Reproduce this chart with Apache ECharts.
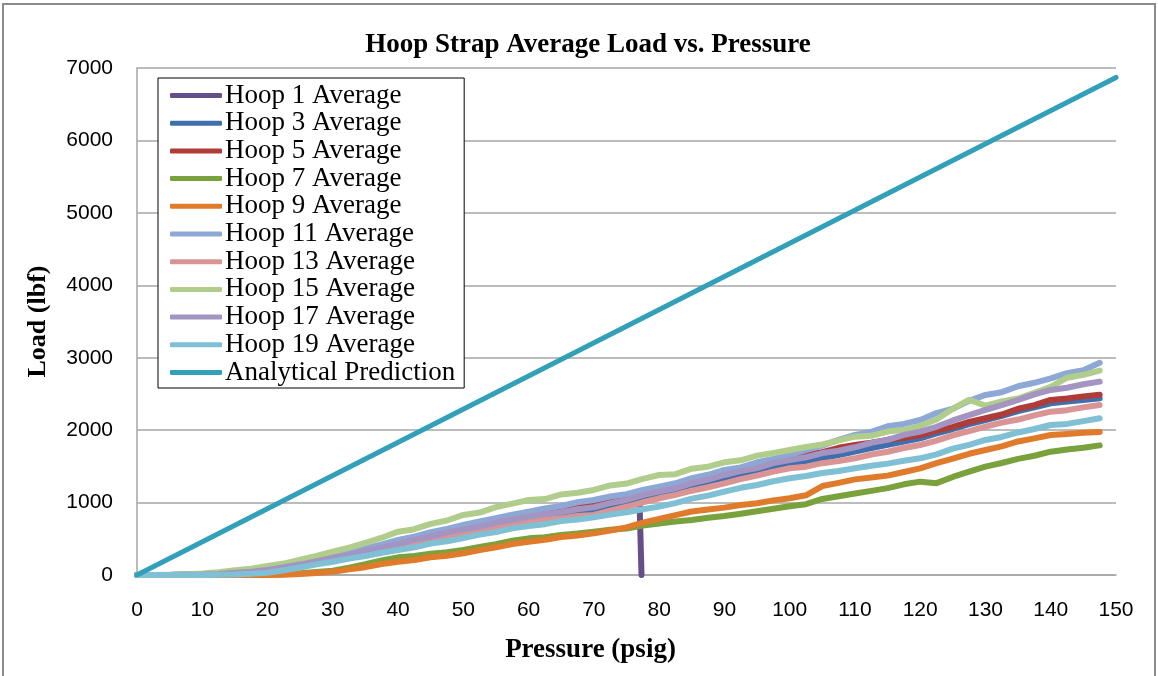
<!DOCTYPE html>
<html>
<head>
<meta charset="utf-8">
<script src="https://cdn.jsdelivr.net/npm/echarts@6/dist/echarts.min.js"></script>
<style>
html,body{margin:0;padding:0;background:#fff;}
#chart{width:1158px;height:676px;}
</style>
</head>
<body>
<div id="chart"></div>
<script>
const pressure = [0,2.5,5,7.5,10,12.5,15,17.5,20,22.5,25,27.5,30,32.5,35,37.5,40,42.5,45,47.5,50,52.5,55,57.5,60,62.5,65,67.5,70,72.5,75,77.5,80,82.5,85,87.5,90,92.5,95,97.5,100,102.5,105,107.5,110,112.5,115,117.5,120,122.5,125,127.5,130,132.5,135,137.5,140,142.5,145,147.5];
const pressureHoop1 = [0,2.5,5,7.5,10,12.5,15,17.5,20,22.5,25,27.5,30,32.5,35,37.5,40,42.5,45,47.5,50,52.5,55,57.5,60,62.5,65,67.5,70,72.5,75,77,77.3];
const pressureAnalytical = [0,150];

const hoop1 = [0,0,0,2,5,12,25,42,62,98,138,178,220,265,315,362,410,462,512,560,605,648,695,740,780,810,840,870,905,940,980,1000,0];
const hoop3 = [0,0,0,2,5,13,26,44,65,102,138,182,225,268,322,364,414,468,512,568,610,648,704,742,783,814,832,858,875,934,986,1054,1105,1156,1224,1276,1335,1384,1426,1478,1519,1556,1614,1656,1703,1754,1796,1844,1887,1954,2016,2084,2140,2196,2264,2316,2371,2394,2416,2440];
const hoop5 = [0,0,0,2,6,16,28,52,75,108,152,192,240,288,336,394,440,498,546,604,650,686,744,786,829,864,892,934,960,1014,1066,1134,1190,1236,1306,1364,1427,1456,1516,1564,1611,1654,1696,1756,1795,1826,1866,1896,1933,1994,2046,2114,2164,2216,2296,2344,2417,2436,2466,2490];
const hoop7 = [0,0,0,0,0,0,0,2,5,12,25,40,60,102,148,202,244,262,294,316,345,388,426,474,506,522,554,572,598,624,642,684,710,738,760,790,815,846,880,914,950,978,1050,1088,1125,1162,1200,1252,1289,1268,1354,1426,1496,1546,1604,1646,1703,1734,1756,1790];
const hoop9 = [0,0,0,0,0,0,0,0,0,5,15,28,46,78,108,152,184,206,244,266,300,344,382,428,460,486,524,546,575,614,656,724,775,826,876,904,930,966,990,1030,1060,1100,1228,1272,1320,1346,1372,1422,1473,1544,1606,1674,1726,1776,1844,1886,1933,1948,1964,1975];
const hoop11 = [0,0,0,3,8,22,36,60,80,118,158,208,253,302,368,422,483,528,590,636,690,738,786,834,875,918,952,1004,1036,1084,1116,1174,1220,1266,1336,1384,1450,1486,1556,1604,1657,1724,1786,1866,1933,1976,2054,2086,2140,2236,2296,2404,2486,2524,2606,2654,2716,2786,2826,2930];
const hoop13 = [0,0,0,0,3,10,20,36,55,90,122,168,205,248,298,342,390,444,486,538,580,616,664,696,737,764,782,814,829,888,942,1004,1059,1106,1164,1212,1266,1324,1372,1428,1473,1496,1544,1572,1611,1664,1702,1754,1795,1856,1928,1986,2048,2104,2146,2204,2255,2276,2314,2348];
const hoop15 = [0,0,4,12,20,38,65,88,124,158,210,262,322,378,445,515,598,632,705,752,829,862,938,985,1036,1048,1112,1135,1174,1236,1262,1328,1381,1392,1468,1495,1556,1583,1648,1684,1726,1768,1802,1858,1910,1922,1980,2004,2060,2148,2294,2420,2338,2396,2436,2516,2598,2724,2764,2822];
const hoop17 = [0,0,0,2,5,14,30,46,70,106,144,192,235,278,332,378,430,488,532,588,630,668,724,762,806,838,866,908,935,992,1036,1104,1151,1196,1264,1316,1381,1434,1476,1544,1588,1626,1684,1716,1763,1824,1866,1934,1979,2046,2134,2206,2279,2344,2416,2494,2555,2586,2634,2670];
const hoop19 = [0,0,0,0,0,3,8,18,32,66,104,146,184,226,262,308,345,382,434,466,511,558,592,644,677,702,744,766,796,834,866,908,944,992,1054,1096,1151,1204,1242,1294,1335,1366,1408,1436,1473,1508,1538,1578,1611,1666,1744,1796,1864,1906,1968,2016,2071,2086,2124,2164];
const analytical = [0,6870];

const seriesNames = ['Hoop 1 Average','Hoop 3 Average','Hoop 5 Average','Hoop 7 Average','Hoop 9 Average','Hoop 11 Average','Hoop 13 Average','Hoop 15 Average','Hoop 17 Average','Hoop 19 Average','Analytical Prediction'];
const seriesX = [pressureHoop1,pressure,pressure,pressure,pressure,pressure,pressure,pressure,pressure,pressure,pressureAnalytical];
const seriesY = [hoop1,hoop3,hoop5,hoop7,hoop9,hoop11,hoop13,hoop15,hoop17,hoop19,analytical];
const seriesColors = ['#654f8b','#3f6fad','#b03c38','#79a13c','#e07b2c','#8ea8d6','#d99493','#b0cd8c','#a494c2','#7fc0d4','#31a0b8'];

const chart = echarts.init(document.getElementById('chart'));
const series = seriesNames.map((name,k)=>({
  name: name,
  type: 'line',
  data: seriesX[k].map((p,i)=>[p, seriesY[k][i]]),
  showSymbol: false,
  symbol: 'none',
  lineStyle: {color: seriesColors[k], width: k === 10 ? 5 : 6, join: 'round', cap: 'round'},
  itemStyle: {color: seriesColors[k]},
  animation: false,
  z: 2 + k
}));

const serif = 'Liberation Serif';
chart.setOption({
  animation: false,
  backgroundColor: '#fff',
  title: {
    text: 'Hoop Strap Average Load vs. Pressure',
    left: 583,
    textAlign: 'center',
    top: 27,
    textStyle: {fontFamily: serif, fontWeight: 'bold', fontSize: 27, color: '#000'}
  },
  legend: {
    data: seriesNames,
    orient: 'vertical',
    left: 158,
    top: 78,
    padding: [4, 9, 2, 12],
    itemGap: 0.7,
    itemWidth: 52,
    itemHeight: 5,
    icon: 'roundRect',
    backgroundColor: '#fff',
    borderColor: '#000',
    borderWidth: 1,
    borderRadius: 0,
    textStyle: {fontFamily: serif, fontSize: 27, lineHeight: 26, color: '#000', padding: [0,0,0,-2]}
  },
  grid: {left: 137, right: 42, top: 68, bottom: 101, containLabel: false},
  xAxis: {
    type: 'value', min: 0, max: 150, interval: 10,
    name: 'Pressure (psig)', nameLocation: 'middle', nameGap: 62,
    nameTextStyle: {fontFamily: serif, fontWeight: 'bold', fontSize: 27, color: '#000', padding: [0, 72, 0, 0]},
    axisLine: {show: true, lineStyle: {color: '#a6a6a6', width: 1.5}},
    axisTick: {show: false},
    splitLine: {show: false},
    axisLabel: {fontFamily: 'Liberation Sans', fontSize: 21, color: '#000', margin: 25, formatter: v => String(v)}
  },
  yAxis: {
    type: 'value', min: 0, max: 7000, interval: 1000,
    name: 'Load (lbf)', nameLocation: 'middle', nameGap: 86, nameRotate: 90,
    nameTextStyle: {fontFamily: serif, fontWeight: 'bold', fontSize: 26, color: '#000'},
    axisLine: {show: true, lineStyle: {color: '#a6a6a6', width: 1.5}},
    axisTick: {show: false},
    splitLine: {show: true, lineStyle: {color: '#a6a6a6', width: 1.5}},
    axisLabel: {fontFamily: 'Liberation Sans', fontSize: 21, color: '#000', margin: 24, formatter: v => String(v)}
  },
  graphic: [{
    type: 'rect', silent: true, z: 100,
    shape: {x: 3, y: 4, width: 1152, height: 690},
    style: {fill: 'none', stroke: '#8a8a8a', lineWidth: 2}
  }],
  series: series
});
</script>
</body>
</html>
